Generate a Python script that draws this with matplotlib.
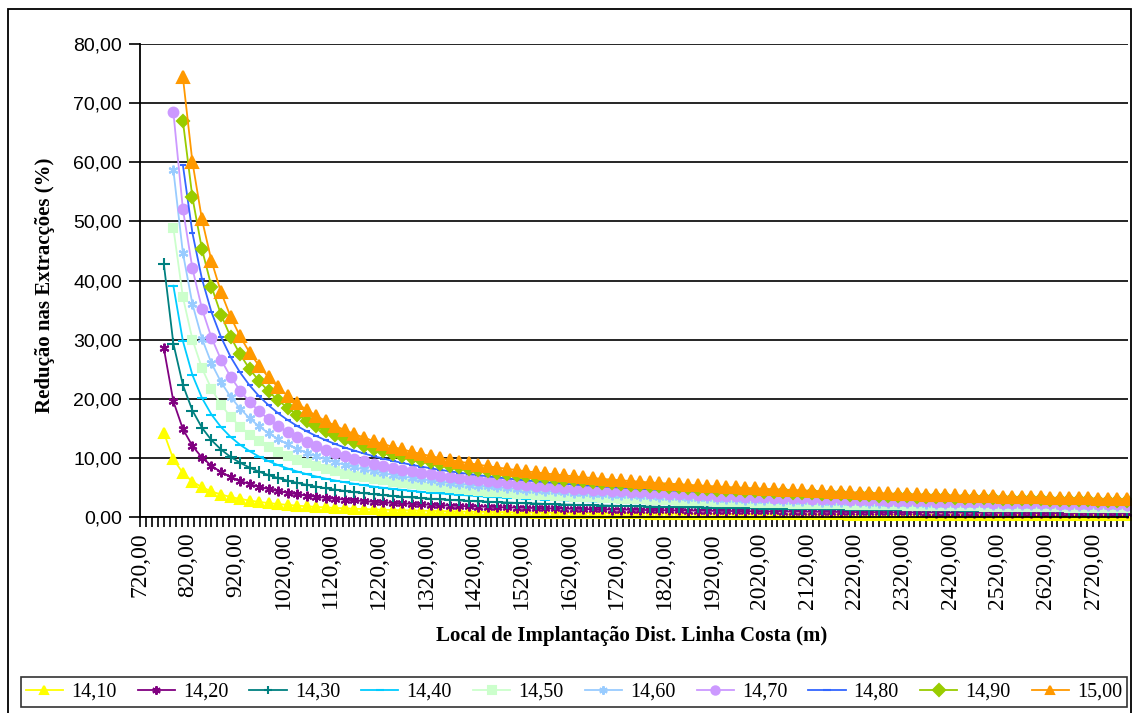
import numpy as np
import matplotlib
matplotlib.use("Agg")
import matplotlib.pyplot as plt
from matplotlib.ticker import FixedLocator, FuncFormatter
from matplotlib.patches import Rectangle

# distances along the coast line (m); curves start at different points
dist = list(range(770, 2791, 20))

labels = ["14,10", "14,20", "14,30", "14,40", "14,50",
          "14,60", "14,70", "14,80", "14,90", "15,00"]
start = [0, 0, 0, 1, 1, 1, 1, 2, 2, 2]   # index in dist where each series starts

s1410 = [14.27, 9.78, 7.44, 6.00, 5.03, 4.33, 3.80, 3.39, 3.06, 2.78, 2.55, 2.36, 2.19, 2.05, 1.92, 1.81, 1.71, 1.62, 1.54, 1.47,
         1.40, 1.34, 1.29, 1.24, 1.19, 1.14, 1.10, 1.07, 1.03, 1.00, 0.97, 0.94, 0.91, 0.88, 0.86, 0.84, 0.82, 0.79, 0.77, 0.76,
         0.74, 0.72, 0.70, 0.69, 0.67, 0.66, 0.65, 0.63, 0.62, 0.61, 0.60, 0.59, 0.57, 0.56, 0.55, 0.54, 0.54, 0.53, 0.52, 0.51,
         0.50, 0.49, 0.49, 0.48, 0.47, 0.46, 0.46, 0.45, 0.44, 0.44, 0.43, 0.43, 0.42, 0.41, 0.41, 0.40, 0.40, 0.39, 0.39, 0.38,
         0.38, 0.37, 0.37, 0.37, 0.36, 0.36, 0.35, 0.35, 0.35, 0.34, 0.34, 0.33, 0.33, 0.33, 0.32, 0.32, 0.32, 0.31, 0.31, 0.31,
         0.30, 0.30]
s1420 = [28.53, 19.56, 14.88, 12.01, 10.06, 8.66, 7.60, 6.78, 6.11, 5.56, 5.11, 4.72, 4.39, 4.10, 3.84, 3.62, 3.42, 3.24, 3.08, 2.94,
         2.80, 2.68, 2.57, 2.47, 2.38, 2.29, 2.21, 2.13, 2.06, 1.99, 1.93, 1.87, 1.82, 1.77, 1.72, 1.67, 1.63, 1.59, 1.55, 1.51,
         1.47, 1.44, 1.41, 1.38, 1.35, 1.32, 1.29, 1.26, 1.24, 1.22, 1.19, 1.17, 1.15, 1.13, 1.11, 1.09, 1.07, 1.05, 1.03, 1.02,
         1.00, 0.98, 0.97, 0.95, 0.94, 0.93, 0.91, 0.90, 0.89, 0.87, 0.86, 0.85, 0.84, 0.83, 0.82, 0.81, 0.80, 0.79, 0.78, 0.77,
         0.76, 0.75, 0.74, 0.73, 0.72, 0.71, 0.71, 0.70, 0.69, 0.68, 0.67, 0.67, 0.66, 0.65, 0.65, 0.64, 0.63, 0.63, 0.62, 0.61,
         0.61, 0.60]
s1430 = [42.80, 29.34, 22.32, 18.01, 15.10, 12.99, 11.41, 10.16, 9.17, 8.35, 7.66, 7.08, 6.58, 6.15, 5.77, 5.43, 5.13, 4.86, 4.62, 4.40,
         4.21, 4.03, 3.86, 3.71, 3.56, 3.43, 3.31, 3.20, 3.09, 2.99, 2.90, 2.81, 2.73, 2.65, 2.58, 2.51, 2.45, 2.38, 2.32, 2.27,
         2.21, 2.16, 2.11, 2.06, 2.02, 1.98, 1.94, 1.90, 1.86, 1.82, 1.79, 1.75, 1.72, 1.69, 1.66, 1.63, 1.61, 1.58, 1.55, 1.52,
         1.50, 1.48, 1.46, 1.43, 1.41, 1.39, 1.37, 1.35, 1.33, 1.31, 1.29, 1.28, 1.26, 1.24, 1.22, 1.21, 1.19, 1.18, 1.16, 1.15,
         1.13, 1.12, 1.11, 1.10, 1.08, 1.07, 1.06, 1.05, 1.04, 1.02, 1.01, 1.00, 0.99, 0.98, 0.97, 0.96, 0.95, 0.94, 0.93, 0.92,
         0.91, 0.90]
s1440 = [39.12, 29.76, 24.02, 20.13, 17.32, 15.21, 13.55, 12.22, 11.13, 10.21, 9.44, 8.77, 8.20, 7.69, 7.24, 6.84, 6.48, 6.16, 5.87, 5.61,
         5.37, 5.14, 4.94, 4.75, 4.58, 4.42, 4.26, 4.12, 3.99, 3.86, 3.75, 3.64, 3.54, 3.44, 3.34, 3.26, 3.18, 3.10, 3.02, 2.95,
         2.88, 2.82, 2.75, 2.69, 2.64, 2.58, 2.53, 2.48, 2.43, 2.38, 2.34, 2.30, 2.26, 2.22, 2.18, 2.14, 2.10, 2.07, 2.03, 2.00,
         1.97, 1.94, 1.91, 1.88, 1.85, 1.82, 1.80, 1.77, 1.75, 1.72, 1.70, 1.68, 1.66, 1.63, 1.61, 1.59, 1.57, 1.55, 1.53, 1.51,
         1.50, 1.48, 1.46, 1.44, 1.43, 1.41, 1.40, 1.38, 1.36, 1.35, 1.34, 1.32, 1.31, 1.29, 1.28, 1.27, 1.26, 1.24, 1.23, 1.22,
         1.20]
s1450 = [48.90, 37.20, 30.02, 25.16, 21.66, 19.01, 16.94, 15.28, 13.91, 12.77, 11.80, 10.97, 10.25, 9.61, 9.05, 8.56, 8.11, 7.71, 7.34, 7.01,
         6.71, 6.43, 6.18, 5.94, 5.72, 5.52, 5.33, 5.15, 4.99, 4.83, 4.69, 4.55, 4.42, 4.30, 4.18, 4.08, 3.97, 3.87, 3.78, 3.69,
         3.60, 3.52, 3.44, 3.37, 3.30, 3.23, 3.16, 3.10, 3.04, 2.98, 2.93, 2.87, 2.82, 2.77, 2.72, 2.68, 2.63, 2.59, 2.54, 2.50,
         2.46, 2.43, 2.39, 2.35, 2.32, 2.28, 2.25, 2.22, 2.19, 2.16, 2.13, 2.10, 2.07, 2.04, 2.02, 1.99, 1.97, 1.94, 1.92, 1.89,
         1.87, 1.85, 1.83, 1.81, 1.79, 1.77, 1.75, 1.73, 1.71, 1.69, 1.67, 1.65, 1.64, 1.62, 1.60, 1.59, 1.57, 1.55, 1.54, 1.52,
         1.51]
s1460 = [58.68, 44.64, 36.02, 30.19, 25.99, 22.81, 20.33, 18.33, 16.69, 15.32, 14.16, 13.16, 12.29, 11.53, 10.86, 10.27, 9.73, 9.25, 8.81, 8.41,
         8.05, 7.72, 7.41, 7.13, 6.86, 6.62, 6.40, 6.18, 5.98, 5.80, 5.62, 5.46, 5.30, 5.16, 5.02, 4.89, 4.76, 4.64, 4.53, 4.42,
         4.32, 4.22, 4.13, 4.04, 3.95, 3.87, 3.79, 3.72, 3.65, 3.58, 3.51, 3.44, 3.38, 3.32, 3.26, 3.21, 3.16, 3.10, 3.05, 3.00,
         2.95, 2.91, 2.86, 2.82, 2.78, 2.74, 2.70, 2.66, 2.62, 2.59, 2.55, 2.51, 2.48, 2.45, 2.42, 2.39, 2.36, 2.33, 2.30, 2.27,
         2.24, 2.21, 2.19, 2.17, 2.14, 2.12, 2.09, 2.07, 2.05, 2.02, 2.00, 1.98, 1.96, 1.94, 1.92, 1.90, 1.88, 1.86, 1.84, 1.82,
         1.81]
s1470 = [68.46, 52.08, 42.03, 35.22, 30.32, 26.61, 23.72, 21.39, 19.47, 17.87, 16.52, 15.35, 14.34, 13.45, 12.67, 11.98, 11.35, 10.79, 10.28, 9.81,
         9.39, 9.00, 8.65, 8.32, 8.01, 7.73, 7.46, 7.21, 6.98, 6.76, 6.56, 6.37, 6.19, 6.02, 5.85, 5.71, 5.56, 5.42, 5.29, 5.16,
         5.04, 4.93, 4.82, 4.71, 4.61, 4.52, 4.42, 4.34, 4.26, 4.17, 4.10, 4.02, 3.95, 3.88, 3.81, 3.75, 3.68, 3.62, 3.56, 3.50,
         3.44, 3.40, 3.34, 3.29, 3.24, 3.19, 3.15, 3.10, 3.06, 3.02, 2.98, 2.93, 2.90, 2.86, 2.82, 2.79, 2.75, 2.72, 2.68, 2.65,
         2.62, 2.58, 2.56, 2.53, 2.50, 2.47, 2.44, 2.42, 2.39, 2.36, 2.34, 2.31, 2.29, 2.26, 2.24, 2.22, 2.20, 2.17, 2.15, 2.13,
         2.11]
s1480 = [59.52, 48.03, 40.26, 34.65, 30.42, 27.10, 24.44, 22.26, 20.42, 18.88, 17.54, 16.39, 15.38, 14.48, 13.69, 12.97, 12.33, 11.74, 11.22, 10.74,
         10.29, 9.88, 9.50, 9.15, 8.83, 8.53, 8.24, 7.98, 7.73, 7.50, 7.28, 7.07, 6.88, 6.69, 6.52, 6.35, 6.19, 6.04, 5.90, 5.76,
         5.63, 5.50, 5.38, 5.27, 5.16, 5.06, 4.96, 4.86, 4.77, 4.68, 4.59, 4.51, 4.43, 4.35, 4.28, 4.21, 4.14, 4.06, 4.00, 3.94,
         3.88, 3.82, 3.76, 3.70, 3.65, 3.60, 3.54, 3.50, 3.45, 3.40, 3.35, 3.31, 3.26, 3.22, 3.18, 3.14, 3.10, 3.06, 3.02, 2.99,
         2.95, 2.92, 2.89, 2.86, 2.82, 2.79, 2.76, 2.73, 2.70, 2.67, 2.64, 2.62, 2.58, 2.56, 2.54, 2.51, 2.48, 2.46, 2.43, 2.41]
s1490 = [66.96, 54.04, 45.29, 38.98, 34.22, 30.49, 27.50, 25.04, 22.98, 21.24, 19.74, 18.44, 17.30, 16.29, 15.40, 14.59, 13.87, 13.21, 12.62, 12.08,
         11.57, 11.12, 10.69, 10.30, 9.94, 9.59, 9.27, 8.98, 8.69, 8.43, 8.19, 7.96, 7.74, 7.52, 7.34, 7.15, 6.97, 6.80, 6.63, 6.48,
         6.34, 6.19, 6.06, 5.93, 5.81, 5.69, 5.58, 5.47, 5.36, 5.27, 5.17, 5.08, 4.99, 4.90, 4.82, 4.73, 4.65, 4.57, 4.50, 4.43,
         4.37, 4.29, 4.23, 4.16, 4.10, 4.05, 3.99, 3.93, 3.88, 3.83, 3.77, 3.73, 3.68, 3.63, 3.58, 3.54, 3.49, 3.45, 3.40, 3.37,
         3.32, 3.29, 3.25, 3.21, 3.18, 3.14, 3.11, 3.07, 3.03, 3.01, 2.97, 2.94, 2.91, 2.88, 2.85, 2.82, 2.79, 2.76, 2.74, 2.71]
s1500 = [74.40, 60.04, 50.32, 43.31, 38.02, 33.88, 30.55, 27.82, 25.53, 23.60, 21.93, 20.49, 19.22, 18.10, 17.11, 16.21, 15.41, 14.68, 14.02, 13.42,
         12.86, 12.35, 11.88, 11.44, 11.04, 10.66, 10.30, 9.97, 9.66, 9.37, 9.10, 8.84, 8.60, 8.36, 8.15, 7.94, 7.74, 7.55, 7.37, 7.20,
         7.04, 6.88, 6.73, 6.59, 6.45, 6.32, 6.20, 6.08, 5.96, 5.85, 5.74, 5.64, 5.54, 5.44, 5.35, 5.26, 5.17, 5.08, 5.00, 4.92,
         4.85, 4.77, 4.70, 4.63, 4.56, 4.50, 4.43, 4.37, 4.31, 4.25, 4.19, 4.14, 4.08, 4.03, 3.98, 3.93, 3.88, 3.83, 3.78, 3.74,
         3.69, 3.65, 3.61, 3.57, 3.53, 3.49, 3.45, 3.41, 3.37, 3.34, 3.30, 3.27, 3.23, 3.20, 3.17, 3.14, 3.10, 3.07, 3.04, 3.01]

series = [s1410, s1420, s1430, s1440, s1450, s1460, s1470, s1480, s1490, s1500]

colors = ["#FFFF00", "#800080", "#008080", "#00CCFF", "#CCFFCC",
          "#99CCFF", "#CC99FF", "#3366FF", "#99CC00", "#FF9900"]
markers = ["^", (6, 2, 0), "+", "_", "s", (6, 2, 0), "o", "_", "D", "^"]
msizes = [7, 7, 8, 7, 6, 7, 7, 5, 6, 8]

W, H = 1132, 713
fig = plt.figure(figsize=(W / 100, H / 100), dpi=100)
ax = fig.add_axes([140 / W, 1 - 517 / H, (1128 - 140) / W, (517 - 44) / H])

for vals, lab, st, c, m, ms in zip(series, labels, start, colors, markers, msizes):
    xs = dist[st:st + len(vals)]
    ax.plot(xs, vals[:len(xs)], color=c, lw=1.3, marker=m, ms=ms,
            mec=c, mfc=c, mew=1.5, label=lab, clip_on=False)

ax.set_xlim(720, 2793)
ax.set_ylim(0, 80)
ax.set_yticks(np.arange(0, 81, 10))
ax.yaxis.grid(True, color="black", lw=1.2)
ax.set_axisbelow(True)
ax.xaxis.set_major_locator(FixedLocator(np.arange(720, 2721, 100)))
ax.xaxis.set_minor_locator(FixedLocator(np.arange(720, 2793, 12.5)))
fmt = FuncFormatter(lambda v, p: f"{v:.2f}".replace(".", ","))
ax.xaxis.set_major_formatter(fmt)
ax.yaxis.set_major_formatter(fmt)

for sp in ["top", "right"]:
    ax.spines[sp].set_visible(False)
for sp in ["left", "bottom"]:
    ax.spines[sp].set_linewidth(1.3)

ax.tick_params(axis="y", length=8, width=1.2, pad=5, labelsize=14)
ax.tick_params(axis="x", which="both", length=7, width=1.2, direction="out")
ax.tick_params(axis="x", which="major", pad=4, labelsize=17, labelrotation=90)
for t in ax.get_yticklabels():
    t.set_fontfamily("Liberation Sans")
for t in ax.get_xticklabels():
    t.set_fontfamily("Liberation Serif")

fig.text(45 / W, 1 - 285 / H, "Redução nas Extracções (%)", rotation=90,
         ha="center", va="center", fontsize=15, fontweight="bold",
         family="Liberation Serif")
fig.text(632 / W, 1 - 636 / H, "Local de Implantação Dist. Linha Costa (m)",
         ha="center", va="center", fontsize=15, fontweight="bold",
         family="Liberation Serif")

leg = fig.legend(loc="center", bbox_to_anchor=(574 / W, 1 - 692 / H), ncol=10,
                 frameon=True, fancybox=False, edgecolor="black",
                 prop={"family": "Liberation Serif", "size": 14.5},
                 handlelength=1.85, handletextpad=0.4, columnspacing=1.05,
                 borderpad=0.25, borderaxespad=0)
leg.get_frame().set_linewidth(1.2)
for h in leg.legend_handles:
    h.set_markersize(6)

fig.patches.append(Rectangle((7.5 / W, -0.01), (1130.5 - 7.5) / W, 1 - 9 / H + 0.01,
                             transform=fig.transFigure, fill=False,
                             edgecolor="black", lw=1.3))

fig.savefig("out.png", dpi=100)
